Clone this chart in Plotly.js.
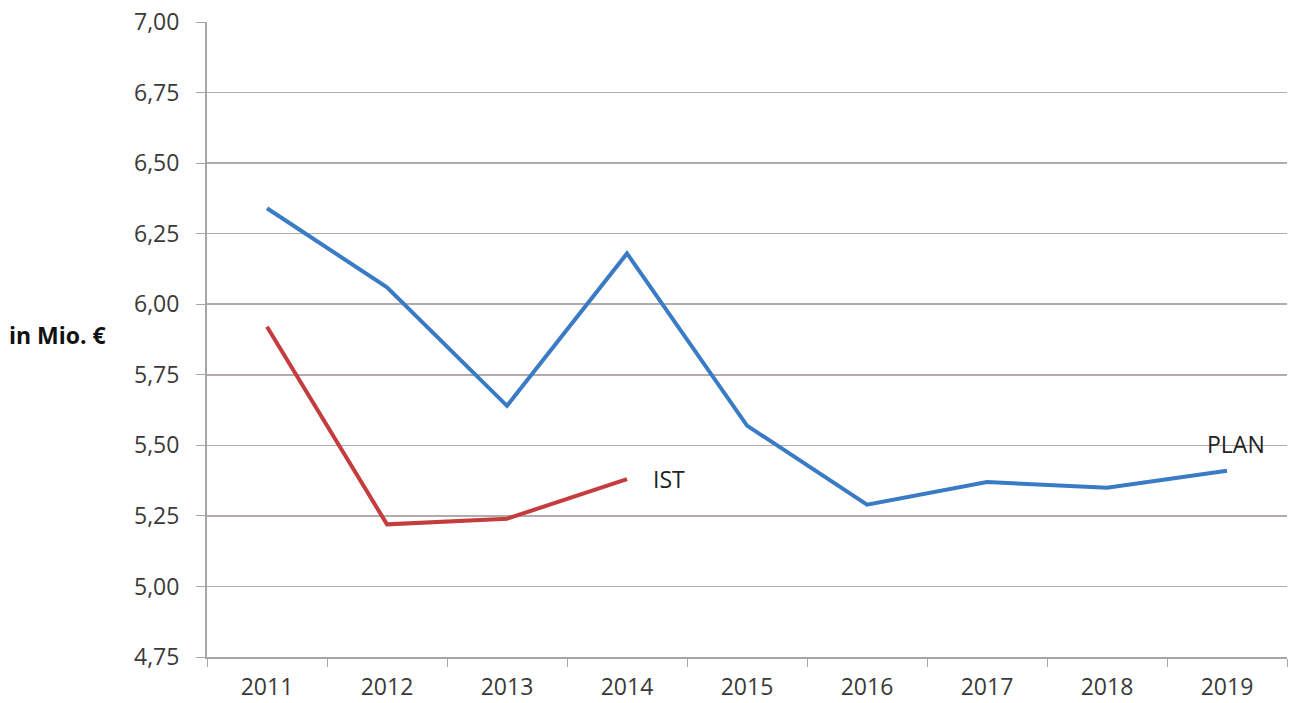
<!DOCTYPE html>
<html><head><meta charset="utf-8">
<script src="https://cdn.plot.ly/plotly-3.0.1.min.js"></script>
<style>html,body{margin:0;padding:0;background:#fff}#c{width:1295px;height:703px}</style>
</head><body><div id="c"></div>
<script>
const years = ["2011","2012","2013","2014","2015","2016","2017","2018","2019"];
const planValues = [6.34, 6.06, 5.64, 6.18, 5.57, 5.29, 5.37, 5.35, 5.41];
const istYears = ["2011","2012","2013","2014"];
const istValues = [5.92, 5.22, 5.24, 5.38];
const yTicks = [4.75, 5.00, 5.25, 5.50, 5.75, 6.00, 6.25, 6.50, 6.75, 7.00];

const font = "Open Sans, Liberation Sans, sans-serif";
const traces = [
  {x: years, y: planValues, type: "scatter", mode: "lines", name: "PLAN",
   line: {color: "#3a7bc6", width: 4}},
  {x: istYears, y: istValues, type: "scatter", mode: "lines", name: "IST",
   line: {color: "#c43c3e", width: 4}}
];
const layout = {
  width: 1295, height: 703,
  margin: {l: 207, r: 8, t: 22, b: 46},
  paper_bgcolor: "#fff", plot_bgcolor: "#fff",
  showlegend: false,
  separators: ",.",
  font: {family: font, color: "#333", size: 23},
  xaxis: {type: "category", range: [-0.5, 8.5], tickson: "boundaries",
    ticks: "outside", ticklen: 8, tickcolor: "#a6a6a6", showgrid: false,
    showline: true, linecolor: "#a6a6a6", linewidth: 2, ticklabelstandoff: 8,
    tickfont: {size: 23, color: "#3a3a3a"}, zeroline: false},
  yaxis: {range: [4.75, 7.0], tickvals: yTicks, tickformat: ".2f",
    ticks: "outside", ticklen: 9, tickcolor: "#a6a6a6", ticklabelstandoff: 12,
    showgrid: true, gridcolor: "#b3abab", gridwidth: 1.5,
    showline: true, linecolor: "#a6a6a6", linewidth: 2, zeroline: false,
    tickfont: {size: 23, color: "#3a3a3a"}},
  annotations: [
    {xref: "paper", yref: "paper", x: -0.185, y: 0.507, xanchor: "left", yanchor: "middle",
     text: "<b>in Mio. €</b>", showarrow: false, font: {size: 23, color: "#111", family: font}},
    {xref: "x", yref: "y", x: 3, y: istValues[3], xshift: 24, yshift: 0, xanchor: "left", yanchor: "middle",
     text: "IST", showarrow: false, font: {size: 23, color: "#222"}},
    {xref: "x", yref: "y", x: 8, y: planValues[8], xshift: 9, yshift: 27, xanchor: "center", yanchor: "middle",
     text: "PLAN", showarrow: false, font: {size: 23, color: "#222"}}
  ]
};
Plotly.newPlot("c", traces, layout, {staticPlot: true});
</script></body></html>
